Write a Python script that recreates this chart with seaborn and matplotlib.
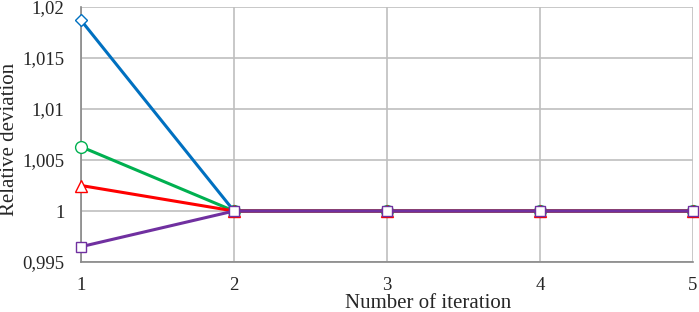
import matplotlib
matplotlib.use("Agg")
import matplotlib.pyplot as plt
import seaborn as sns
import pandas as pd

iterations = [1, 2, 3, 4, 5]
series_a = [1.0187, 1.0, 1.0, 1.0, 1.0]
series_b = [1.0063, 1.0, 1.0, 1.0, 1.0]
series_c = [1.0025, 1.0, 1.0, 1.0, 1.0]
series_d = [0.9965, 1.0, 1.0, 1.0, 1.0]
series_names = ["A", "B", "C", "D"]
y_ticks = [0.995, 1.0, 1.005, 1.01, 1.015, 1.02]
y_tick_labels = ["0,995", "1", "1,005", "1,01", "1,015", "1,02"]

colors = ["#0070C0", "#00B050", "#FF0000", "#7030A0"]
markers = ["D", "o", "^", "s"]
msizes = [6.5, 8.5, 8.6, 6.5]

rows = []
for name, vals in zip(series_names, [series_a, series_b, series_c, series_d]):
    for x, y in zip(iterations, vals):
        rows.append({"iter": x, "val": y, "series": name})
df = pd.DataFrame(rows)

sns.set_style("white")
plt.rcParams["font.family"] = ["Liberation Serif", "DejaVu Serif"]

fig = plt.figure(figsize=(6.99, 3.12), dpi=100)
ax = fig.add_axes([81/699, 1 - 262/312, (693-81)/699, (262-7)/312])

for i, (name, c, m, ms) in enumerate(zip(series_names, colors, markers, msizes)):
    sub = df[df["series"] == name]
    sns.lineplot(data=sub, x="iter", y="val", ax=ax, color=c, linewidth=2.2,
                 marker=m, markersize=ms, markerfacecolor="white",
                 markeredgecolor=c, markeredgewidth=1.0, legend=False,
                 zorder=3 + i, clip_on=False)

ax.set_xlim(1, 5)
ax.set_ylim(0.995, 1.02)
ax.set_xticks(iterations)
ax.set_xticklabels([str(i) for i in iterations], fontsize=13.5)
ax.set_yticks(y_ticks)
ax.set_yticklabels(y_tick_labels, fontsize=13.5)
ax.grid(True, color="#BFBFBF", linewidth=1.2)
ax.set_axisbelow(True)
for s in ["top", "right"]:
    ax.spines[s].set_visible(False)
for s in ["left", "bottom"]:
    ax.spines[s].set_color("#888888")
    ax.spines[s].set_linewidth(1.2)
ax.tick_params(axis="x", direction="out", length=4, color="#888888", width=1.2, pad=7)
ax.tick_params(axis="y", direction="out", length=4, color="#888888", width=1.2, pad=8)
ax.set_xlabel("Number of iteration", fontsize=15)
ax.xaxis.set_label_coords((428 - 81) / 612, -(308 - 262) / 255, transform=ax.transAxes)
ax.xaxis.label.set_va("baseline")
ax.set_ylabel("Relative deviation", fontsize=15)
ax.yaxis.set_label_coords(-(81 - 10) / 612, 1 - (139.5 - 7) / 255, transform=ax.transAxes)
ax.yaxis.label.set_va("center")

fig.savefig("out.png", dpi=100)
